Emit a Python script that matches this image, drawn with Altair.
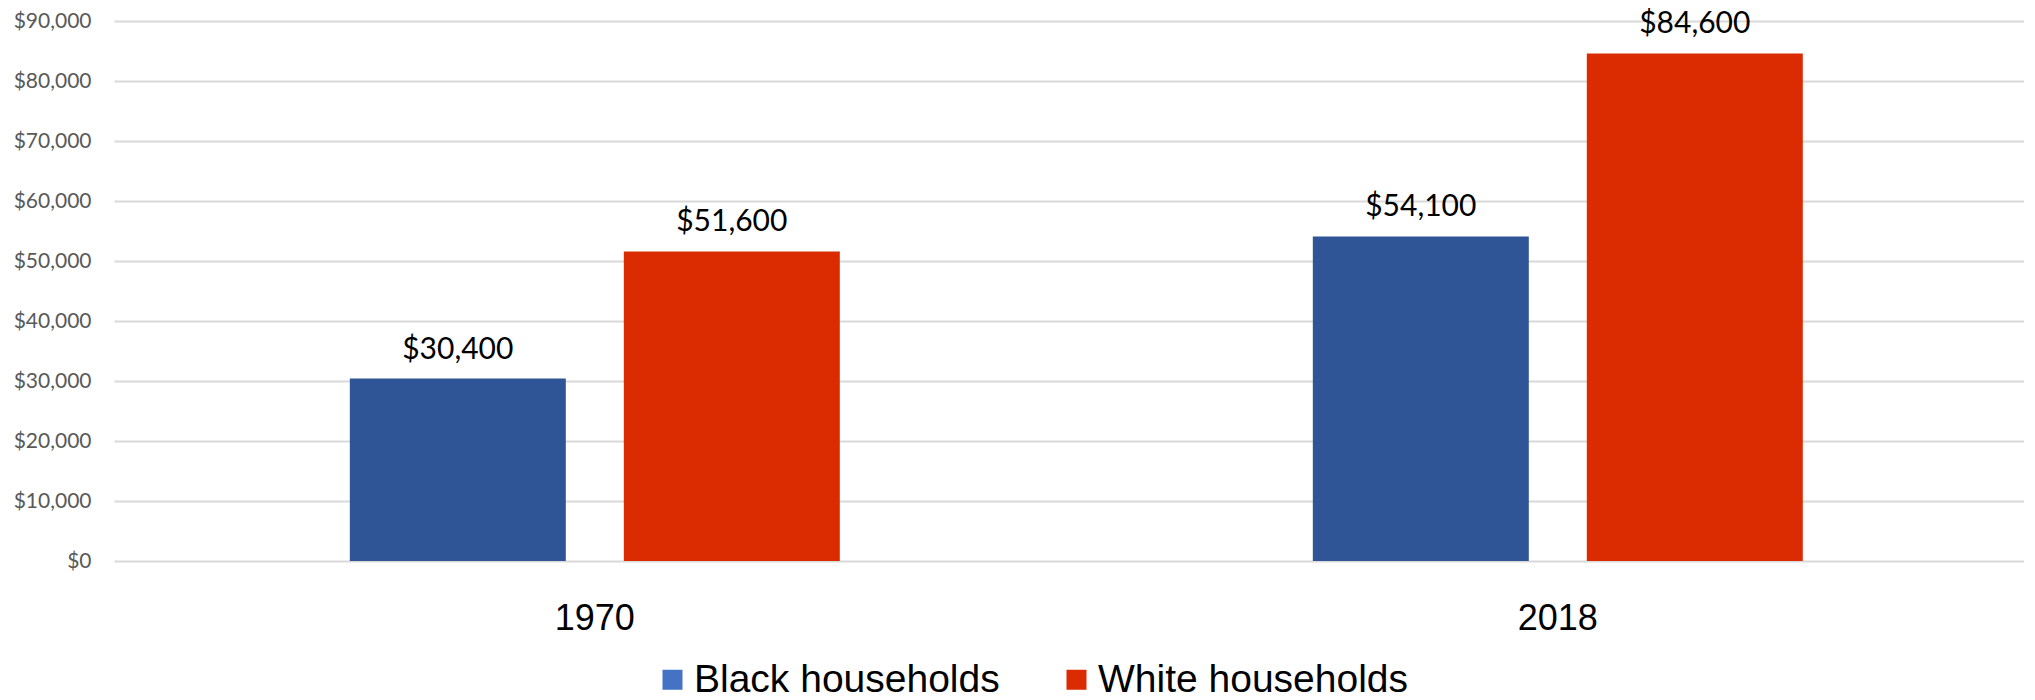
import altair as alt
import pandas as pd

years = ["1970", "2018"]
series = ["Black households", "White households"]
black_values = [30400, 54100]
white_values = [51600, 84600]
bar_colors = ["#2F5597", "#DA2C00"]
legend_colors = ["#4472C4", "#DA2C00"]
y_ticks = [0, 10000, 20000, 30000, 40000, 50000, 60000, 70000, 80000, 90000]

rows = []
for i, yr in enumerate(years):
    rows.append({"year": yr, "group": series[0], "value": black_values[i]})
    rows.append({"year": yr, "group": series[1], "value": white_values[i]})
df = pd.DataFrame(rows)
df["label"] = df["value"].map(lambda v: f"${v:,.0f}")

x = alt.X(
    "year:N", sort=years,
    scale=alt.Scale(paddingInner=0.4912, paddingOuter=0.2373, align=0.516),
    axis=alt.Axis(title=None, labelAngle=0, ticks=False, domain=False,
                  labelFont="Liberation Sans", labelFontSize=36,
                  labelColor="#000000", labelPadding=40, grid=False),
)
xo = alt.XOffset("group:N", sort=series, scale=alt.Scale(paddingInner=0.2117, paddingOuter=0))
y = alt.Y(
    "value:Q",
    scale=alt.Scale(domain=[0, 90000], nice=False),
    axis=alt.Axis(values=y_ticks, format="$,.0f", title=None, ticks=False, domain=False,
                  labelFont="Lato", labelFontSize=21, labelColor="#595959", labelPadding=23,
                  gridColor="#D9D9D9", gridWidth=2),
)

bars = alt.Chart(df).mark_bar().encode(
    x=x, xOffset=xo, y=y,
    color=alt.Color("group:N", sort=series, scale=alt.Scale(domain=series, range=bar_colors), legend=None),
)

legend_layer = alt.Chart(df).mark_bar(opacity=0).encode(
    x=x, xOffset=xo, y=y,
    color=alt.Color(
        "group:N", sort=series,
        scale=alt.Scale(domain=series, range=legend_colors),
        legend=alt.Legend(
            title=None, orient="none", legendX=539, legendY=639, direction="horizontal",
            symbolType="square", symbolSize=400, symbolOpacity=1, symbolStrokeWidth=0,
            labelFont="Liberation Sans", labelFontSize=39, padding=0,
            labelColor="#000000", labelOffset=2, columnPadding=57, labelLimit=0,
        ),
    ),
)

labels = alt.Chart(df).mark_text(
    baseline="alphabetic", dy=-20, font="Lato", fontSize=30, color="#000000"
).encode(x=x, xOffset=xo, y=y, text="label:N")

chart = alt.layer(bars, legend_layer, labels).resolve_scale(color="independent").properties(
    width=1910, height=540,
    autosize=alt.AutoSizeParams(type="none"),
    padding={"left": 106, "top": 13, "right": 0, "bottom": 131},
).configure_view(stroke=None)

chart.save("out.html", embed_options={"renderer": "svg", "actions": False})
